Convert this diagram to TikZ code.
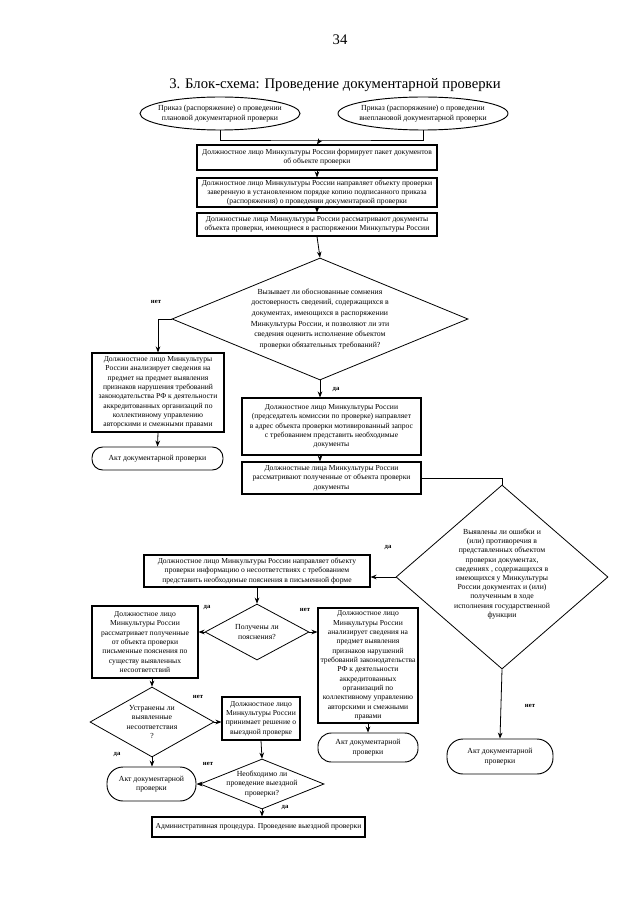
\documentclass[tikz,border=0pt]{standalone}
\usepackage{fontspec}
\setmainfont{Liberation Serif}
\usetikzlibrary{shapes.geometric,arrows.meta,calc}
\newcommand\boxat[6]{\node[#1, minimum width={(#4-#2)*0.75pt}, minimum height={(#5-#3)*0.75pt}] (#6) at ({(#2+#4)/2},{(#3+#5)/2})}
\begin{document}
\begin{tikzpicture}[x=0.75pt,y=-0.75pt,
  txt/.style={font=\fontsize{5.8}{7.1}\selectfont, align=center, inner sep=0pt},
  boxn/.style={draw, line width=0.85pt, rectangle, inner sep=0.5pt, font=\fontsize{5.7}{7}\selectfont, align=center},
  term/.style={draw, line width=0.7pt, rectangle, inner sep=1pt, font=\fontsize{5.8}{7.2}\selectfont, align=center},
  dia/.style={draw, diamond, line width=0.6pt, inner sep=0pt},
  ell/.style={draw, ellipse, line width=0.7pt, inner sep=0pt},
  lab/.style={font=\fontsize{5}{6}\selectfont\bfseries, inner sep=0pt},
  arr/.style={-{Stealth[length=4.5pt,width=3.5pt]}, line width=0.6pt},
  ln/.style={line width=0.6pt}]
\useasboundingbox[fill=white] (0,0) rectangle (640,905);

% header
\node[font=\fontsize{11}{13}\selectfont, inner sep=0pt] (pg) at (340,40) {34};
\node[font=\fontsize{11}{13}\selectfont, inner sep=0pt] (title) at (335,85) {3. Блок-схема: Проведение документарной проверки};

% top ellipses
\node[ell, minimum width=160*0.75pt, minimum height=33*0.75pt] (e1) at (220,113.5) {};
\node[txt] (e1t) at (e1) {Приказ (распоряжение) о проведении\\плановой документарной проверки};
\node[ell, minimum width=170*0.75pt, minimum height=33*0.75pt] (e2) at (423,113.5) {};
\node[txt] (e2t) at (e2) {Приказ (распоряжение) о проведении\\внеплановой документарной проверки};
\coordinate (jt) at (320,140);

% main column
\boxat{boxn}{197}{145}{437}{170}{b1} {Должностное лицо Минкультуры России формирует пакет документов\\об объекте проверки};
\boxat{boxn}{197}{178}{437}{207}{b2} {Должностное лицо Минкультуры России направляет объекту проверки\\заверенную в установленном порядке копию подписанного приказа\\(распоряжения) о проведении документарной проверки};
\boxat{boxn}{197}{213}{437}{236}{b3} {Должностные лица Минкультуры России рассматривают документы\\объекта проверки, имеющиеся в распоряжении Минкультуры России};

\node[dia, minimum width=296*0.75pt, minimum height=122*0.75pt] (d1) at (320,319) {};
\node[txt, font=\fontsize{5.8}{8}\selectfont] (d1t) at (320,319) {Вызывает ли обоснованные сомнения\\достоверность сведений, содержащихся в\\документах, имеющихся в распоряжении\\Минкультуры России, и позволяют ли эти\\сведения оценить исполнение объектом\\проверки обязательных требований?};

\boxat{boxn}{92}{353}{224}{432}{b4} {Должностное лицо Минкультуры\\России анализирует сведения на\\предмет на предмет выявления\\признаков нарушения требований\\законодательства РФ к деятельности\\аккредитованных организаций по\\коллективному управлению\\авторскими и смежными правами};
\boxat{term, rounded corners=8pt}{92}{447}{223}{470}{t1} {Акт документарной проверки};

\boxat{boxn}{242}{398}{421}{455}{b5} {Должностное лицо Минкультуры России\\(председатель комиссии по проверке) направляет\\в адрес объекта проверки мотивированный запрос\\с требованием представить необходимые\\документы};
\boxat{boxn}{242}{462}{421}{494}{b6} {Должностные лица Минкультуры России\\рассматривают полученные от объекта проверки\\документы};

\node[dia, minimum width=212*0.75pt, minimum height=184*0.75pt] (d2) at (502,577) {};
\node[txt, font=\fontsize{5.8}{6.9}\selectfont] (d2t) at (502,574) {Выявлены ли ошибки и\\(или) противоречия в\\представленных объектом\\проверки документах,\\сведениях , содержащихся в\\имеющихся у Минкультуры\\России документах и (или)\\полученным в ходе\\исполнения государственной\\функции};

\boxat{boxn}{144}{555}{370}{587}{b7} {Должностное лицо Минкультуры России направляет объекту\\проверки информацию о несоответствиях с требованием\\представить необходимые пояснения в письменной форме};

\node[dia, minimum width=104*0.75pt, minimum height=56*0.75pt] (d3) at (257,632) {};
\node[txt] (d3t) at (257,632) {Получены ли\\пояснения?};

\boxat{boxn}{92}{606}{198}{678}{b8} {Должностное лицо\\Минкультуры России\\рассматривает полученные\\от объекта проверки\\письменные пояснения по\\существу выявленных\\несоответствий};

\boxat{boxn}{318}{608}{418}{723}{b11} {Должностное лицо\\Минкультуры России\\анализирует сведения на\\предмет выявления\\признаков нарушений\\требований законодательства\\РФ к деятельности\\аккредитованных\\организаций по\\коллективному управлению\\авторскими и смежными\\правами};
\boxat{term, rounded corners=10pt}{318}{733}{418}{762}{t3} {Акт документарной\\проверки};

\node[dia, minimum width=124*0.75pt, minimum height=70*0.75pt] (d4) at (152,722) {};
\node[txt] (d4t) at (152,722) {Устранены ли\\выявленные\\несоответствия\\?};

\boxat{boxn}{222}{697}{300}{740}{b9} {Должностное лицо\\Минкультуры России\\принимает решение о\\выездной проверке};

\node[dia, minimum width=124*0.75pt, minimum height=50*0.75pt] (d5) at (262,784) {};
\node[txt] (d5t) at (262,784) {Необходимо ли\\проведение выездной\\проверки?};

\boxat{term, rounded corners=12pt}{107}{767}{196}{801}{t2} {Акт документарной\\проверки};
\boxat{boxn}{152}{817}{365}{837}{b10} {Административная процедура. Проведение выездной проверки};

\boxat{term, rounded corners=12pt}{447}{739}{553}{774}{t4} {Акт документарной\\проверки};

% connectors
\draw[ln] (e1.south) |- (jt) -| (e2.south);
\draw[arr] (jt) -- (b1.north);
\draw[arr] (b1.south) -- (b2.north);
\draw[arr] (b2.south) -- (b3.north);
\draw[arr] (b3.south) -- (d1.north);
\draw[arr] (d1.west) -| (b4.north);
\draw[arr] (b4.south) -- (t1.north);
\draw[arr] (d1.south) -- (d1.south |- b5.north);
\draw[arr] (b5.south -| d1.south) -- (b6.north -| d1.south);
\draw[ln] (b6.east) -| (d2.north);
\draw[arr] (d2.west) -- (d2.west -| b7.east);
\draw[arr] (d2.south) -- (t4.north);
\draw[arr] (b7.south) -- (d3.north);
\draw[arr] (d3.west) -- (d3.west -| b8.east);
\draw[arr] (d3.east) -- (d3.east -| b11.west);
\draw[arr] (b11.south) -- (t3.north);
\draw[arr] (d4.north |- b8.south) -- (d4.north);
\draw[arr] (d4.east) -- (d4.east -| b9.west);
\draw[arr] (d4.south) -- (d4.south |- t2.north);
\draw[arr] (b9.south) -- (d5.north);
\draw[arr] (d5.west) -- (d5.west -| t2.east);
\draw[arr] (d5.south) -- (d5.south |- b10.north);

% labels
\node[lab] (l1) at (156,302) {нет};
\node[lab] (l2) at (336,390) {да};
\node[lab] (l3) at (388,548) {да};
\node[lab] (l4) at (207,608) {да};
\node[lab] (l5) at (305,610) {нет};
\node[lab] (l6) at (198,697) {нет};
\node[lab] (l7) at (117,755) {да};
\node[lab] (l8) at (208,764) {нет};
\node[lab] (l9) at (285,808) {да};
\node[lab] (l10) at (530,706) {нет};
\end{tikzpicture}
\end{document}
